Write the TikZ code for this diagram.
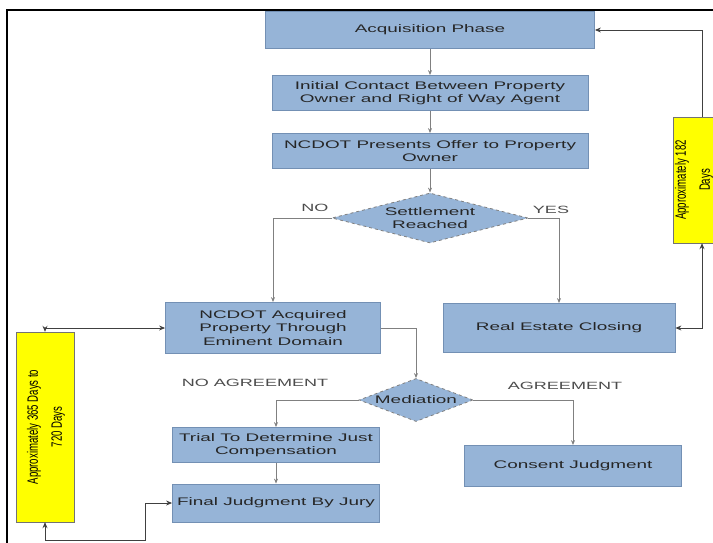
\documentclass[tikz,border=0pt]{standalone}
\usepackage{fontspec}
\usepackage{graphicx}
\setmainfont{Liberation Sans}
\newfontfamily\wideface[FakeStretch=1.72]{Liberation Sans}
\newfontfamily\tallface[FakeStretch=0.64]{Liberation Sans}
\usetikzlibrary{shapes.geometric,arrows.meta}
\definecolor{stepblue}{HTML}{96B4D7}
\definecolor{stepedge}{HTML}{7390B4}
\definecolor{noteyellow}{HTML}{FFFF00}

\tikzset{
  process/.style={draw=stepedge,fill=stepblue,line width=0.8pt,inner sep=0pt,align=center,
    text=black!85,font=\wideface\fontsize{11}{13.5}\selectfont},
  decision/.style={process,diamond,dashed,draw=gray},
  daysnote/.style={draw=black!55,fill=noteyellow,inner sep=0pt,minimum width=58,
    font=\tallface\fontsize{15}{24}\selectfont},
  tag/.style={text=black!70,font=\wideface\fontsize{10.5}{12}\selectfont},
  flow/.style={draw=gray,line width=0.7pt,-{Stealth[length=5pt,width=4pt]}},
  span/.style={draw=black!75,line width=0.9pt,-{Stealth[length=6pt,width=5pt]}}
}

\begin{document}
\begin{tikzpicture}[x=1pt,y=-1pt]
  \useasboundingbox (0,0) rectangle (713,543);
  \draw[line width=1.6pt] (7,10) rectangle (740,570);

  % main steps
  \node[process,minimum width=329,minimum height=37] (acq) at (430,30) {Acquisition Phase};
  \node[process,minimum width=316,minimum height=35] (contact) at (430,93)
    {Initial Contact Between Property\\Owner and Right of Way Agent};
  \node[process,minimum width=316,minimum height=35] (offer) at (430,151)
    {NCDOT Presents Offer to Property\\Owner};
  \node[decision,aspect=3.9,minimum width=196,minimum height=50] (settle) at (430,218)
    {Settlement\\Reached};
  \node[process,minimum width=215,minimum height=51] (eminent) at (273,328)
    {NCDOT Acquired\\Property Through\\Eminent Domain};
  \node[process,minimum width=232,minimum height=49] (closing) at (559,328) {Real Estate Closing};
  \node[decision,aspect=2.65,minimum width=114,minimum height=43] (mediation) at (416,400) {Mediation};
  \node[process,minimum width=207,minimum height=35] (trial) at (276,445)
    {Trial To Determine Just\\Compensation};
  \node[process,minimum width=207,minimum height=38] (final) at (276,503) {Final Judgment By Jury};
  \node[process,minimum width=217,minimum height=41] (consent) at (573,466) {Consent Judgment};

  % time notes
  \node[daysnote,minimum height=126] (daysA) at (702,180)
    {\hspace{-18pt}\rotatebox{90}{\begin{tabular}{@{}c@{}}Approximately 182\\Days\end{tabular}}};
  \node[daysnote,minimum height=190] (daysB) at (45,427)
    {\rotatebox{90}{\begin{tabular}{@{}c@{}}Approximately 365 Days to\\720 Days\end{tabular}}};

  % labels
  \node[tag] (no) at (315,208) {NO};
  \node[tag] (yes) at (551,210) {YES};
  \node[tag] (noagree) at (255,383) {NO AGREEMENT};
  \node[tag] (agree) at (565,386) {AGREEMENT};

  % connectors
  \draw[flow] (acq) -- (contact);
  \draw[flow] (contact) -- (offer);
  \draw[flow] (offer) -- (settle);
  \draw[flow] (settle.west) -| (eminent.north);
  \draw[flow] (settle.east) -| (closing.north);
  \draw[flow] (eminent.east) -| (mediation.north);
  \draw[flow] (mediation.west) -| (trial.north);
  \draw[flow] (mediation.east) -| (consent.north);
  \draw[flow] (trial) -- (final);

  \coordinate (loopB) at (145,540);
  \draw[span] (daysA.north) |- (acq.east);
  \draw[span,{Stealth[length=6pt,width=5pt]}-{Stealth[length=6pt,width=5pt]}] (daysA.south) |- (closing.east);
  \draw[span,{Stealth[length=6pt,width=5pt]}-{Stealth[length=6pt,width=5pt]}] (daysB.north) |- (eminent.west);
  \draw[span,{Stealth[length=6pt,width=5pt]}-{Stealth[length=6pt,width=5pt]}] (daysB.south) |- (loopB) |- (final.west);
\end{tikzpicture}
\end{document}
